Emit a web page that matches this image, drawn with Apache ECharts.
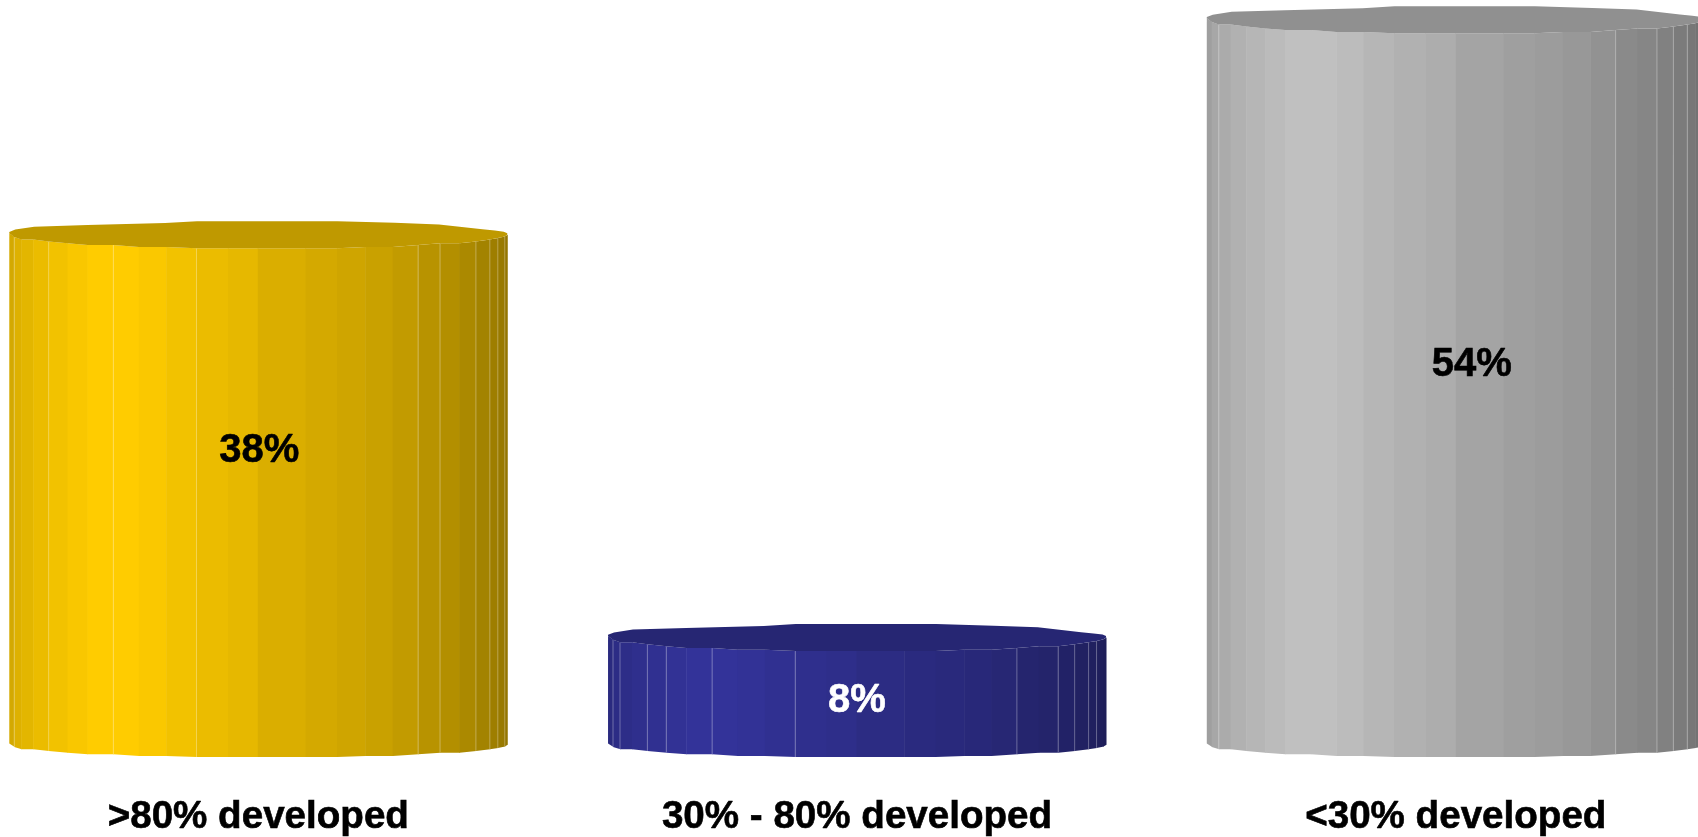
<!DOCTYPE html>
<html><head><meta charset="utf-8">
<style>html,body{margin:0;padding:0;background:#fff;overflow:hidden}#c{width:1698px;height:837px}</style>
<script src="https://cdn.jsdelivr.net/npm/echarts@6/dist/echarts.min.js"></script>
</head><body><div id="c"></div>
<script>
const categories = ['>80% developed', '30% - 80% developed', '<30% developed'];
const values = [38, 8, 54];
const baseColors = [[255,204,0],[51,51,153],[192,192,192]];
const labelColors = ['#000000','#ffffff','#000000'];
// where each percentage label sits, in value units and in band-offset pixels
const labelAnchors = [21.8, 3.2, 28.2];
const labelShift = [1, 0, 16];

// facet layout of the cylinder, as fractions of its width
const facetEdges = [0,.010,.024,.048,.079,.117,.157,.209,.260,.315,.376,.439,.499,.595,.658,.715,.770,.821,.865,.904,.937,.965,.981,.995,1];
const facetDepth = [0,.25,.42,.42,.55,.68,.79,.79,.92,.92,1,1,1,1,1,.92,.92,.79,.68,.68,.55,.42,.33,.22,.1];
const facetShade = [.83,.87,.89,.92,.95,.975,1,1,.98,.95,.92,.90,.855,.83,.81,.79,.76,.72,.70,.67,.64,.62,.60,.58];
const seamEdges = [[1,4,7,10,17,18,20,21,22,23],[1,2,4,5,7,10,17,19,20,21,22],[2,17,19,20,21]];
const backX = [1,.993,.975,.95,.863,.774,.659,.377,.313,.157,.05,.012,0];
const backH = [0,.12,.22,.32,.73,.86,1,1,.84,.67,.54,.3,.1];
const topShade = 0.75;
const FRONT_TOP = 15, FRONT_BOTTOM = 13.5, BACK = 12, BAR_FRACTION = 0.8317;

const rgb = (c, s) => `rgb(${Math.round(c[0]*s)},${Math.round(c[1]*s)},${Math.round(c[2]*s)})`;

function renderItem(params, api) {
  const i = params.dataIndex;
  const top = api.coord([api.value(0), api.value(1)]);
  const base = api.coord([api.value(0), 0]);
  const w = api.size([1, 0])[0] * BAR_FRACTION;
  const left = top[0] - w / 2;
  const c = baseColors[i];
  const kids = [];
  const X = f => left + f * w;
  for (let k = 0; k < facetShade.length; k++) {
    const x0 = X(facetEdges[k]), x1 = X(facetEdges[k+1]) + 0.5;
    const a0 = facetDepth[k], a1 = facetDepth[k+1];
    kids.push({type:'polygon', shape:{points:[[x0,top[1]+a0*FRONT_TOP],[x1,top[1]+a1*FRONT_TOP],[x1,base[1]+a1*FRONT_BOTTOM],[x0,base[1]+a0*FRONT_BOTTOM]]},
      style:{fill:rgb(c, facetShade[k])}});
  }
  seamEdges[i].forEach(e => {
    const x = X(facetEdges[e]), a = facetDepth[e];
    kids.push({type:'line', shape:{x1:x,y1:top[1]+a*FRONT_TOP,x2:x,y2:base[1]+a*FRONT_BOTTOM},
      style:{stroke:'rgba(255,255,255,0.32)', lineWidth:1}});
  });
  const pts = [];
  facetEdges.forEach((f, k) => pts.push([X(f), top[1] + facetDepth[k] * FRONT_TOP]));
  backX.forEach((f, k) => pts.push([X(f), top[1] - backH[k] * BACK]));
  kids.push({type:'polygon', shape:{points:pts}, style:{fill:rgb(c, topShade)}});
  const ly = api.coord([api.value(0), labelAnchors[i]])[1];
  kids.push({type:'text', style:{text:api.value(1) + '%', x:top[0] + labelShift[i], y:ly,
    align:'center', verticalAlign:'middle', fill:labelColors[i],
    stroke:labelColors[i], lineWidth:0.6,
    font:'bold 40px "Liberation Sans", Arial, sans-serif'}});
  return {type:'group', children:kids};
}

const chart = echarts.init(document.getElementById('c'), null, {renderer:'canvas'});
chart.setOption({
  animation:false,
  backgroundColor:'#ffffff',
  grid:{left:-41.1, top:0, width:1796.25, height:743.5, outerBoundsMode:'none'},
  xAxis:{type:'category', data:categories,
    axisLine:{show:false}, axisTick:{show:false}, splitLine:{show:false},
    axisLabel:{interval:0, margin:54.5, color:'#000', fontFamily:'"Liberation Sans", Arial, sans-serif', fontWeight:'bold', fontSize:38.6,
      textBorderColor:'#000', textBorderWidth:0.6}},
  yAxis:{type:'value', min:0, max:55.36, show:false, splitLine:{show:false}},
  series:[{type:'custom', coordinateSystem:'cartesian2d', renderItem,
    encode:{x:0,y:1}, data:categories.map((n,i)=>[n, values[i]])}]
});
</script></body></html>
